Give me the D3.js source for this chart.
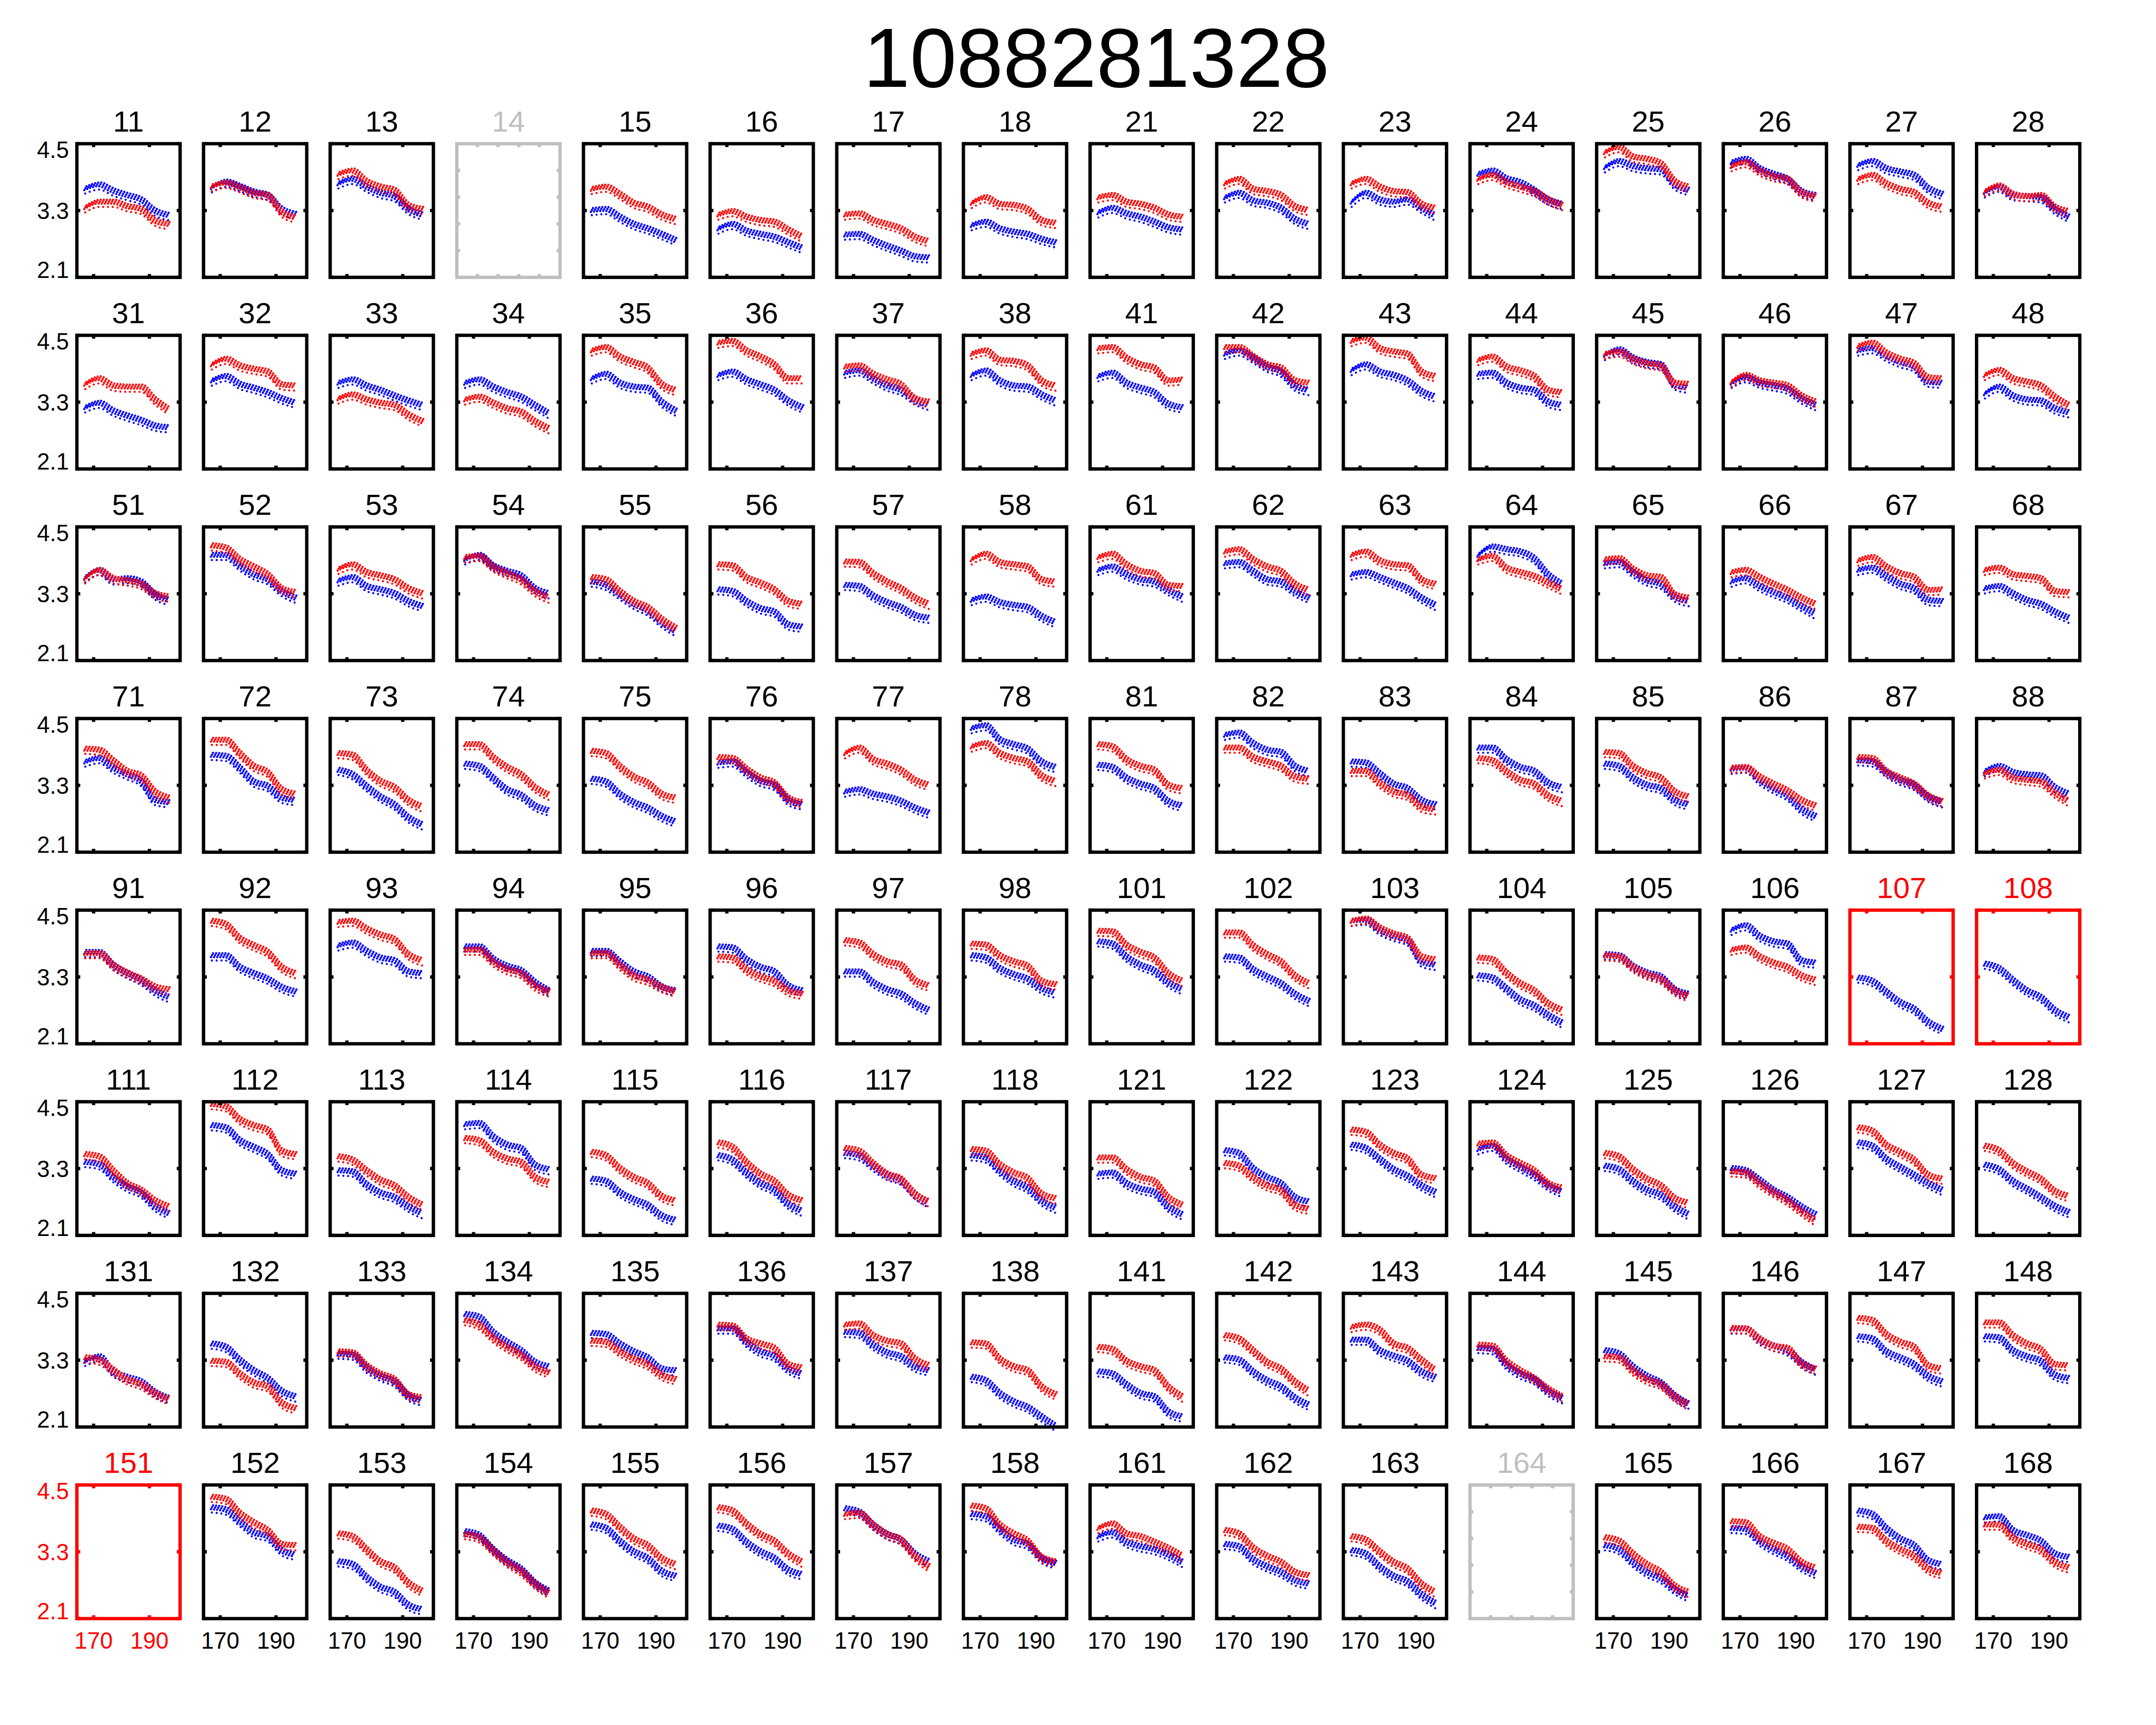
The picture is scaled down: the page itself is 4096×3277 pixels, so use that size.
<!DOCTYPE html>
<html><head><meta charset="utf-8">
<script src="https://cdn.jsdelivr.net/npm/d3@7"></script>
<style>html,body{margin:0;padding:0;background:#fff;} svg{display:block;}</style>
</head><body>
<svg id="chart" width="4096" height="3277"></svg>
<script>
// ---------------- data ----------------
const chartTitle = "1088281328";
const xKeys = [167, 172, 177, 182, 187, 192, 197];
const xTickValues = [170, 190];
const xTickLabels = ["170", "190"];
const yTickValues = [4.5, 3.3, 2.1];
const yTickLabels = ["4.5", "3.3", "2.1"];
const emptyTickValues = [0.2, 0.4, 0.6, 0.8];

const panelLabels = [
  ["11","12","13","14","15","16","17","18","21","22","23","24","25","26","27","28"],
  ["31","32","33","34","35","36","37","38","41","42","43","44","45","46","47","48"],
  ["51","52","53","54","55","56","57","58","61","62","63","64","65","66","67","68"],
  ["71","72","73","74","75","76","77","78","81","82","83","84","85","86","87","88"],
  ["91","92","93","94","95","96","97","98","101","102","103","104","105","106","107","108"],
  ["111","112","113","114","115","116","117","118","121","122","123","124","125","126","127","128"],
  ["131","132","133","134","135","136","137","138","141","142","143","144","145","146","147","148"],
  ["151","152","153","154","155","156","157","158","161","162","163","164","165","166","167","168"]
];
const emptyPanels = ["14", "164"];
const flaggedPanels = ["107", "108", "151"];

const redRow1 = [
  [3.36,3.46,3.46,3.38,3.33,3.12,3.06],[3.74,3.80,3.72,3.62,3.58,3.28,3.18],[3.96,4.02,3.83,3.73,3.67,3.40,3.33],null,
  [3.69,3.73,3.60,3.44,3.37,3.23,3.15],[3.23,3.29,3.19,3.13,3.10,2.96,2.83],[3.23,3.25,3.13,3.06,2.98,2.83,2.75],[3.44,3.54,3.42,3.40,3.33,3.13,3.08],
  [3.54,3.58,3.46,3.42,3.35,3.23,3.19],[3.79,3.87,3.69,3.65,3.58,3.38,3.31],[3.79,3.87,3.73,3.65,3.63,3.42,3.35],[3.87,3.94,3.81,3.73,3.65,3.50,3.40],
  [4.35,4.44,4.27,4.23,4.15,3.83,3.73],[4.10,4.17,4.02,3.92,3.87,3.63,3.56],[3.87,3.94,3.79,3.69,3.63,3.44,3.37],[3.65,3.75,3.60,3.56,3.58,3.37,3.29]
];
const blueRow1 = [
  [3.70,3.77,3.66,3.58,3.50,3.30,3.22],[3.72,3.82,3.74,3.64,3.58,3.33,3.24],[3.79,3.87,3.73,3.62,3.56,3.33,3.23],null,
  [3.31,3.33,3.19,3.06,2.98,2.88,2.77],[2.98,3.06,2.94,2.88,2.83,2.73,2.63],[2.87,2.88,2.77,2.67,2.58,2.48,2.46],[3.04,3.10,2.98,2.92,2.88,2.79,2.73],
  [3.27,3.35,3.25,3.19,3.10,3.00,2.96],[3.54,3.62,3.48,3.44,3.35,3.15,3.06],[3.46,3.62,3.50,3.46,3.50,3.35,3.21],[3.96,4.02,3.88,3.81,3.67,3.50,3.42],
  [4.08,4.19,4.10,4.06,4.04,3.77,3.67],[4.17,4.23,4.06,3.96,3.87,3.65,3.58],[4.12,4.19,4.06,4.00,3.94,3.71,3.60],[3.63,3.73,3.58,3.56,3.54,3.33,3.19]
];
const redRow2 = [
  [3.63,3.73,3.60,3.58,3.58,3.35,3.17],[3.98,4.08,3.96,3.90,3.85,3.62,3.60],[3.37,3.44,3.35,3.29,3.25,3.08,2.96],[3.35,3.40,3.29,3.19,3.13,2.96,2.83],
  [4.23,4.29,4.12,4.02,3.92,3.63,3.52],[4.37,4.40,4.23,4.12,3.98,3.73,3.73],[3.94,3.96,3.81,3.71,3.62,3.37,3.31],[4.17,4.23,4.06,4.04,3.96,3.69,3.60],
  [4.27,4.29,4.10,3.98,3.92,3.69,3.71],[4.29,4.29,4.13,3.98,3.92,3.69,3.65],[4.40,4.46,4.27,4.21,4.17,3.85,3.77],[4.06,4.12,3.94,3.87,3.77,3.52,3.48],
  [4.17,4.21,4.08,4.00,3.96,3.65,3.63],[3.67,3.79,3.69,3.65,3.60,3.42,3.31],[4.31,4.37,4.19,4.08,4.00,3.75,3.73],[3.79,3.88,3.73,3.67,3.60,3.40,3.25]
];
const blueRow2 = [
  [3.21,3.29,3.15,3.06,2.98,2.88,2.85],[3.69,3.77,3.63,3.56,3.48,3.37,3.29],[3.65,3.71,3.60,3.52,3.42,3.33,3.25],[3.65,3.71,3.58,3.48,3.40,3.25,3.10],
  [3.73,3.81,3.65,3.58,3.56,3.31,3.15],[3.79,3.85,3.71,3.62,3.52,3.33,3.21],[3.83,3.87,3.73,3.60,3.52,3.35,3.25],[3.79,3.87,3.69,3.60,3.58,3.44,3.33],
  [3.77,3.83,3.65,3.56,3.48,3.27,3.21],[4.17,4.23,4.10,3.94,3.85,3.60,3.52],[3.88,3.98,3.85,3.79,3.69,3.50,3.40],[3.81,3.83,3.65,3.56,3.52,3.31,3.25],
  [4.15,4.25,4.10,4.02,3.98,3.62,3.56],[3.65,3.75,3.65,3.60,3.54,3.37,3.25],[4.23,4.27,4.13,4.02,3.94,3.67,3.65],[3.46,3.58,3.42,3.35,3.33,3.19,3.12]
];
const redRow3 = [
  [3.58,3.73,3.58,3.54,3.48,3.31,3.25],[4.17,4.13,3.92,3.79,3.65,3.40,3.33],[3.75,3.83,3.69,3.63,3.56,3.40,3.31],[3.96,3.98,3.79,3.67,3.56,3.35,3.23],
  [3.60,3.56,3.35,3.17,3.06,2.85,2.69],[3.83,3.81,3.60,3.50,3.38,3.17,3.12],[3.88,3.87,3.67,3.52,3.40,3.23,3.12],[3.92,4.02,3.87,3.83,3.79,3.56,3.52],
  [3.96,4.02,3.83,3.71,3.67,3.46,3.44],[4.06,4.10,3.92,3.79,3.71,3.48,3.37],[4.00,4.06,3.90,3.83,3.81,3.56,3.48],[3.92,3.98,3.77,3.69,3.62,3.50,3.38],
  [3.92,3.94,3.75,3.63,3.60,3.29,3.23],[3.69,3.73,3.60,3.48,3.37,3.23,3.12],[3.90,3.96,3.79,3.67,3.60,3.37,3.38],[3.73,3.77,3.65,3.62,3.58,3.35,3.33]
];
const blueRow3 = [
  [3.60,3.73,3.56,3.58,3.52,3.29,3.19],[4.00,4.00,3.81,3.65,3.56,3.35,3.23],[3.54,3.60,3.44,3.38,3.31,3.17,3.08],[3.92,4.00,3.81,3.71,3.63,3.40,3.31],
  [3.52,3.46,3.29,3.12,3.00,2.79,2.63],[3.38,3.35,3.17,3.04,2.98,2.75,2.71],[3.46,3.44,3.27,3.15,3.06,2.92,2.87],[3.19,3.25,3.15,3.10,3.06,2.90,2.79],
  [3.73,3.79,3.65,3.56,3.52,3.37,3.25],[3.85,3.87,3.71,3.56,3.52,3.35,3.23],[3.65,3.69,3.60,3.50,3.40,3.23,3.10],[4.00,4.15,4.10,4.06,3.94,3.65,3.48],
  [3.85,3.87,3.69,3.54,3.48,3.25,3.17],[3.52,3.58,3.44,3.33,3.23,3.08,2.94],[3.73,3.77,3.62,3.48,3.40,3.19,3.17],[3.40,3.44,3.31,3.19,3.12,2.98,2.87]
];
const redRow4 = [
  [3.96,3.94,3.75,3.56,3.48,3.19,3.08],[4.12,4.12,3.88,3.65,3.54,3.23,3.15],[3.88,3.85,3.58,3.38,3.27,3.04,2.92],[4.04,4.04,3.81,3.63,3.50,3.27,3.13],
  [3.92,3.88,3.65,3.46,3.35,3.15,3.08],[3.81,3.79,3.60,3.44,3.35,3.08,3.00],[3.88,3.98,3.77,3.69,3.58,3.40,3.31],[4.00,4.06,3.88,3.79,3.73,3.48,3.38],
  [4.04,4.00,3.77,3.65,3.58,3.31,3.25],[3.98,3.98,3.81,3.73,3.65,3.46,3.42],[3.56,3.56,3.35,3.19,3.13,2.92,2.87],[3.79,3.75,3.56,3.40,3.33,3.12,3.02],
  [3.90,3.88,3.65,3.52,3.44,3.19,3.10],[3.62,3.63,3.46,3.33,3.21,3.04,2.94],[3.81,3.79,3.56,3.44,3.33,3.12,3.02],[3.52,3.58,3.44,3.40,3.37,3.17,3.02]
];
const blueRow4 = [
  [3.73,3.79,3.62,3.50,3.38,3.04,3.00],[3.85,3.83,3.62,3.37,3.29,3.08,3.04],[3.58,3.50,3.29,3.10,2.96,2.73,2.60],[3.69,3.65,3.44,3.23,3.13,2.94,2.85],
  [3.42,3.37,3.15,3.00,2.90,2.75,2.65],[3.71,3.73,3.54,3.38,3.31,3.04,2.96],[3.19,3.23,3.15,3.10,3.02,2.90,2.81],[4.33,4.38,4.13,4.04,3.96,3.73,3.63],
  [3.67,3.63,3.44,3.33,3.25,3.02,2.94],[4.21,4.25,4.06,3.94,3.90,3.65,3.56],[3.73,3.71,3.52,3.33,3.25,3.04,2.96],[3.98,3.98,3.77,3.63,3.56,3.35,3.27],
  [3.69,3.65,3.44,3.31,3.25,3.04,2.96],[3.60,3.62,3.40,3.25,3.12,2.88,2.75],[3.75,3.73,3.54,3.40,3.31,3.10,3.00],[3.56,3.65,3.54,3.50,3.48,3.27,3.15]
];
const redRow5 = [
  [3.73,3.73,3.52,3.38,3.27,3.13,3.08],[4.31,4.25,4.00,3.87,3.75,3.48,3.37],[4.29,4.31,4.17,4.06,3.98,3.71,3.60],[3.79,3.79,3.58,3.44,3.37,3.15,3.04],
  [3.73,3.73,3.52,3.33,3.25,3.12,3.04],[3.67,3.65,3.44,3.31,3.23,3.06,3.00],[3.96,3.92,3.71,3.58,3.52,3.25,3.15],[3.90,3.88,3.69,3.58,3.50,3.23,3.17],
  [4.13,4.12,3.88,3.75,3.65,3.37,3.23],[4.10,4.10,3.87,3.71,3.58,3.33,3.19],[4.31,4.35,4.19,4.08,4.00,3.67,3.62],[3.65,3.62,3.38,3.19,3.06,2.83,2.71],
  [3.69,3.67,3.48,3.35,3.27,3.06,2.96],[3.79,3.83,3.67,3.56,3.48,3.33,3.25],null,null
];
const blueRow5 = [
  [3.75,3.75,3.52,3.37,3.25,3.06,2.94],[3.69,3.69,3.48,3.37,3.27,3.12,3.04],[3.87,3.92,3.77,3.65,3.60,3.40,3.37],[3.85,3.85,3.63,3.50,3.42,3.21,3.06],
  [3.77,3.77,3.58,3.40,3.31,3.13,3.06],[3.85,3.83,3.62,3.48,3.40,3.15,3.06],[3.40,3.40,3.21,3.08,3.00,2.83,2.71],[3.69,3.65,3.46,3.35,3.27,3.10,3.02],
  [3.94,3.90,3.67,3.52,3.42,3.21,3.08],[3.67,3.65,3.44,3.31,3.19,3.00,2.87],[4.31,4.33,4.15,4.04,3.96,3.58,3.52],[3.33,3.29,3.10,2.90,2.79,2.62,2.48],
  [3.71,3.69,3.50,3.38,3.31,3.08,3.00],[4.15,4.23,4.04,3.94,3.90,3.60,3.56],[3.29,3.23,3.04,2.85,2.73,2.50,2.37],[3.54,3.46,3.25,3.06,2.94,2.71,2.58]
];
const redRow6 = [
  [3.56,3.52,3.27,3.04,2.92,2.73,2.62],[4.46,4.42,4.19,4.08,4.00,3.62,3.56],[3.52,3.46,3.27,3.10,3.00,2.79,2.65],[3.85,3.81,3.60,3.48,3.42,3.15,3.06],
  [3.60,3.54,3.31,3.15,3.04,2.81,2.73],[3.77,3.69,3.42,3.21,3.08,2.83,2.73],[3.67,3.62,3.40,3.21,3.12,2.85,2.71],[3.65,3.62,3.38,3.23,3.13,2.85,2.77],
  [3.50,3.50,3.29,3.15,3.08,2.79,2.65],[3.40,3.35,3.15,3.00,2.92,2.65,2.58],[4.00,3.96,3.73,3.58,3.48,3.19,3.13],[3.75,3.77,3.54,3.40,3.27,3.04,2.96],
  [3.58,3.52,3.29,3.12,3.00,2.77,2.69],[3.25,3.23,3.04,2.88,2.73,2.54,2.37],[4.04,3.98,3.73,3.60,3.46,3.19,3.12],[3.71,3.63,3.40,3.25,3.12,2.90,2.81]
];
const blueRow6 = [
  [3.42,3.38,3.15,2.98,2.87,2.63,2.50],[4.08,4.04,3.81,3.69,3.56,3.27,3.21],[3.27,3.25,3.02,2.87,2.79,2.62,2.50],[4.10,4.12,3.88,3.73,3.67,3.37,3.29],
  [3.12,3.08,2.88,2.75,2.65,2.46,2.38],[3.54,3.46,3.23,3.04,2.92,2.67,2.54],[3.58,3.54,3.35,3.19,3.10,2.85,2.69],[3.54,3.50,3.27,3.08,2.96,2.73,2.60],
  [3.21,3.23,3.04,2.94,2.88,2.62,2.48],[3.63,3.58,3.31,3.15,3.04,2.79,2.71],[3.73,3.67,3.48,3.29,3.17,3.00,2.88],[3.65,3.71,3.48,3.33,3.19,3.00,2.88],
  [3.35,3.29,3.08,2.92,2.83,2.62,2.48],[3.31,3.27,3.10,2.92,2.79,2.62,2.48],[3.77,3.71,3.48,3.33,3.19,3.04,2.92],[3.37,3.29,3.08,2.94,2.79,2.63,2.52]
];
const redRow7 = [
  [3.35,3.31,3.13,2.96,2.87,2.71,2.60],[3.29,3.27,3.06,2.90,2.83,2.54,2.44],[3.46,3.44,3.21,3.06,2.96,2.69,2.63],[4.02,3.94,3.71,3.54,3.40,3.19,3.08],
  [3.65,3.63,3.46,3.33,3.23,3.04,2.96],[3.94,3.92,3.69,3.60,3.52,3.23,3.17],[3.94,3.96,3.75,3.65,3.60,3.33,3.21],[3.62,3.60,3.33,3.19,3.12,2.83,2.69],
  [3.54,3.50,3.29,3.19,3.12,2.83,2.65],[3.75,3.69,3.48,3.27,3.15,2.92,2.75],[3.90,3.94,3.85,3.60,3.52,3.31,3.12],[3.58,3.56,3.29,3.12,2.98,2.79,2.65],
  [3.37,3.35,3.12,2.96,2.87,2.65,2.50],[3.88,3.87,3.69,3.56,3.52,3.25,3.15],[4.06,4.02,3.77,3.63,3.54,3.21,3.15],[3.98,3.98,3.75,3.60,3.50,3.23,3.21]
];
const blueRow7 = [
  [3.29,3.37,3.10,3.00,2.92,2.73,2.62],[3.60,3.54,3.31,3.12,2.98,2.75,2.65],[3.42,3.40,3.17,3.02,2.92,2.67,2.58],[4.13,4.08,3.81,3.63,3.48,3.27,3.19],
  [3.79,3.77,3.60,3.46,3.35,3.15,3.12],[3.87,3.87,3.63,3.46,3.38,3.15,3.06],[3.81,3.79,3.58,3.44,3.37,3.19,3.12],[3.00,2.94,2.71,2.56,2.46,2.29,2.12],
  [3.10,3.06,2.87,2.71,2.65,2.38,2.29],[3.35,3.31,3.10,2.94,2.83,2.63,2.50],[3.67,3.67,3.48,3.38,3.29,3.10,3.00],[3.52,3.50,3.23,3.06,2.96,2.75,2.62],
  [3.48,3.42,3.19,3.02,2.90,2.67,2.52],[3.87,3.87,3.67,3.56,3.48,3.27,3.13],[3.73,3.69,3.46,3.35,3.23,3.02,2.92],[3.73,3.71,3.48,3.37,3.29,3.04,2.98]
];
const redRow8 = [
  null,[4.29,4.25,4.00,3.83,3.69,3.44,3.42],[3.63,3.58,3.35,3.13,3.02,2.75,2.60],[3.62,3.56,3.33,3.12,2.96,2.73,2.56],
  [4.04,3.98,3.75,3.54,3.42,3.19,3.08],[4.10,4.04,3.81,3.62,3.50,3.27,3.12],[3.98,4.00,3.79,3.62,3.52,3.23,3.04],[4.13,4.08,3.79,3.63,3.50,3.21,3.13],
  [3.73,3.81,3.63,3.58,3.48,3.37,3.23],[3.69,3.63,3.38,3.23,3.12,2.94,2.88],[3.58,3.52,3.31,3.12,3.00,2.73,2.58],null,
  [3.56,3.50,3.27,3.08,2.94,2.69,2.58],[3.85,3.83,3.58,3.46,3.35,3.12,3.02],[3.75,3.73,3.50,3.35,3.23,3.00,2.92],[3.79,3.79,3.56,3.44,3.35,3.12,3.02]
];
const blueRow8 = [
  null,[4.10,4.06,3.85,3.65,3.58,3.33,3.25],[3.13,3.08,2.85,2.67,2.58,2.35,2.27],[3.67,3.60,3.35,3.15,3.00,2.75,2.60],
  [3.79,3.73,3.50,3.31,3.19,2.96,2.87],[3.77,3.71,3.48,3.31,3.19,2.98,2.90],[4.08,4.02,3.79,3.62,3.52,3.27,3.13],[3.98,3.94,3.71,3.52,3.44,3.19,3.10],
  [3.58,3.65,3.48,3.40,3.35,3.25,3.12],[3.44,3.40,3.17,3.04,2.94,2.79,2.73],[3.33,3.27,3.04,2.87,2.77,2.54,2.38],null,
  [3.42,3.35,3.12,2.94,2.83,2.63,2.50],[3.73,3.71,3.50,3.35,3.23,3.04,2.92],[4.04,3.98,3.73,3.54,3.42,3.15,3.08],[3.92,3.94,3.69,3.60,3.50,3.27,3.21]
];

const redRows = [redRow1, redRow2, redRow3, redRow4, redRow5, redRow6, redRow7, redRow8];
const blueRows = [blueRow1, blueRow2, blueRow3, blueRow4, blueRow5, blueRow6, blueRow7, blueRow8];

// ---------------- layout (reference pixels, scaled by 0.91) ----------------
const SCALE = 0.91;
const FONT = "'Liberation Sans', Arial, Helvetica, sans-serif";
const box = { left: 160.5, pitchX: 264.4, w: 215.5, top: 300, pitchY: 400, h: 279 };
const COL = { red: "#ff0000", blue: "#0000ff", black: "#000000", gray: "#bfbfbf" };

const svg = d3.select("#chart");
svg.append("rect").attr("width", 4096).attr("height", 3277).attr("fill", "#fff");
const root = svg.append("g").attr("transform", `scale(${SCALE})`);

root.append("text")
  .attr("x", 2289).attr("y", 181)
  .attr("text-anchor", "middle")
  .attr("font-family", FONT).attr("font-size", 175)
  .attr("fill", "#000")
  .text(chartTitle);

const x = d3.scaleLinear().domain([164, 201]).range([0, box.w]);
const y = d3.scaleLinear().domain([2.1, 4.5]).range([box.h, 0]);
const ex = d3.scaleLinear().domain([0, 1]).range([0, box.w]);
const ey = d3.scaleLinear().domain([0, 1]).range([box.h, 0]);
const line = d3.line().x((d, i) => x(xKeys[i])).y(d => y(d)).curve(d3.curveMonotoneX);

const TICK = 7, LW = 7;
const yNudge = { "4.5": 12.5, "3.3": 0, "2.1": -16.5 };

// dotted marker rows drawn along each series (offset in px, dot size, spacing)
const dotRows = [
  { dx: 0,   dy: 11, w: 4.6, gap: 10 },
  { dx: -2,  dy: 4,  w: 4.8, gap: 6.5 },
  { dx: 0.2, dy: 0,  w: 4.8, gap: 6.5 },
  { dx: 2.4, dy: -4, w: 4.8, gap: 6.5 }
];

function drawSeries(g, vals, color) {
  if (!vals) return;
  dotRows.forEach(o => {
    g.append("path").datum(vals).attr("d", line)
      .attr("transform", `translate(${o.dx},${o.dy})`)
      .attr("fill", "none").attr("stroke", color)
      .attr("stroke-width", o.w).attr("stroke-linecap", "round")
      .attr("stroke-dasharray", `0 ${o.gap}`);
  });
}

panelLabels.forEach((rowLabels, r) => {
  rowLabels.forEach((lab, c) => {
    const isEmpty = emptyPanels.includes(lab);
    const isFlag = flaggedPanels.includes(lab);
    const frameColor = isEmpty ? COL.gray : (isFlag ? COL.red : COL.black);
    const g = root.append("g")
      .attr("transform", `translate(${box.left + c * box.pitchX},${box.top + r * box.pitchY})`);

    // panel title
    g.append("text")
      .attr("x", box.w / 2).attr("y", -25)
      .attr("text-anchor", "middle")
      .attr("font-family", FONT).attr("font-size", 62)
      .attr("fill", frameColor)
      .text(lab);

    // data
    if (!isEmpty) {
      drawSeries(g, blueRows[r][c], COL.blue);
      drawSeries(g, redRows[r][c], COL.red);
    }

    // ticks (inward)
    const tg = g.append("g").attr("stroke", frameColor).attr("stroke-width", LW);
    const xt = isEmpty ? emptyTickValues.map(ex) : xTickValues.map(x);
    const yt = isEmpty ? emptyTickValues.map(ey) : yTickValues.map(y);
    xt.forEach(px => {
      tg.append("line").attr("x1", px).attr("x2", px).attr("y1", 0).attr("y2", TICK);
      tg.append("line").attr("x1", px).attr("x2", px).attr("y1", box.h).attr("y2", box.h - TICK);
    });
    yt.forEach(py => {
      tg.append("line").attr("y1", py).attr("y2", py).attr("x1", 0).attr("x2", TICK);
      tg.append("line").attr("y1", py).attr("y2", py).attr("x1", box.w).attr("x2", box.w - TICK);
    });

    // frame
    g.append("rect")
      .attr("x", 0).attr("y", 0).attr("width", box.w).attr("height", box.h)
      .attr("fill", "none").attr("stroke", frameColor).attr("stroke-width", LW)
      .attr("stroke-linejoin", "miter");

    // y tick labels on first column
    if (c === 0) {
      yTickValues.forEach((v, i) => {
        g.append("text")
          .attr("x", -16.5).attr("y", y(v) + yNudge[yTickLabels[i]])
          .attr("dy", "0.36em")
          .attr("text-anchor", "end")
          .attr("font-family", FONT).attr("font-size", 48)
          .attr("fill", isFlag ? COL.red : COL.black)
          .text(yTickLabels[i]);
      });
    }
    // x tick labels on last row
    if (r === panelLabels.length - 1 && !isEmpty) {
      xTickValues.forEach((v, i) => {
        g.append("text")
          .attr("x", x(v)).attr("y", box.h + 63)
          .attr("text-anchor", "middle")
          .attr("font-family", FONT).attr("font-size", 48)
          .attr("fill", isFlag ? COL.red : COL.black)
          .text(xTickLabels[i]);
      });
    }
  });
});
</script>
</body></html>
